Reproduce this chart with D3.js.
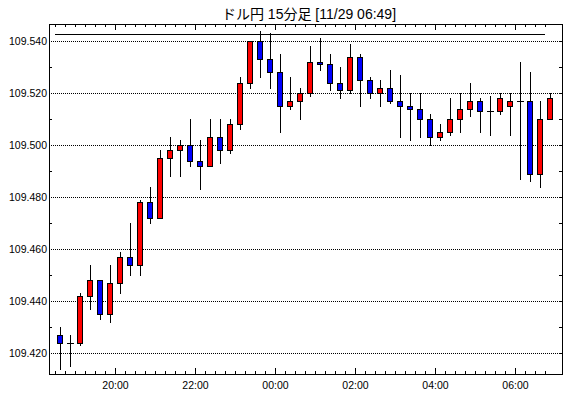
<!DOCTYPE html>
<html>
<head>
<meta charset="utf-8">
<script src="https://cdn.jsdelivr.net/npm/d3@7"></script>
<style>
body { margin: 0; background: #fff; }
text { font-family: "Liberation Sans", Arial, sans-serif; fill: #000; }
.tick line, .frame, .wick, .ref { shape-rendering: crispEdges; }
</style>
</head>
<body>
<script>
// 15 min bars, 11/28 18:30 -> 11/29 06:45
var times = ["18:30","18:45","19:00","19:15","19:30","19:45","20:00","20:15","20:30","20:45",
             "21:00","21:15","21:30","21:45","22:00","22:15","22:30","22:45","23:00","23:15",
             "23:30","23:45","00:00","00:15","00:30","00:45","01:00","01:15","01:30","01:45",
             "02:00","02:15","02:30","02:45","03:00","03:15","03:30","03:45","04:00","04:15",
             "04:30","04:45","05:00","05:15","05:30","05:45","06:00","06:15","06:30","06:45"];
var open  = [109.427,109.424,109.424,109.442,109.448,109.435,109.447,109.457,109.454,109.478,
             109.472,109.495,109.498,109.500,109.494,109.492,109.503,109.498,109.508,109.524,
             109.540,109.533,109.528,109.515,109.517,109.520,109.532,109.531,109.524,109.521,
             109.534,109.525,109.520,109.522,109.517,109.515,109.514,109.510,109.503,109.505,
             109.510,109.514,109.517,109.513,109.513,109.515,109.517,109.517,109.489,109.510];
var high  = [109.430,109.427,109.443,109.454,109.448,109.454,109.459,109.470,109.479,109.484,
             109.498,109.503,109.502,109.510,109.502,109.510,109.510,109.510,109.526,109.540,
             109.544,109.543,109.535,109.526,109.522,109.538,109.541,109.535,109.530,109.539,
             109.535,109.526,109.525,109.529,109.527,109.520,109.520,109.512,109.508,109.518,
             109.520,109.524,109.518,109.519,109.520,109.520,109.532,109.528,109.517,109.520];
var low   = [109.414,109.415,109.423,109.437,109.433,109.432,109.443,109.450,109.450,109.470,
             109.472,109.488,109.488,109.492,109.483,109.492,109.493,109.497,109.506,109.522,
             109.526,109.522,109.505,109.514,109.510,109.519,109.529,109.521,109.518,109.520,
             109.515,109.518,109.515,109.516,109.503,109.502,109.503,109.500,109.502,109.504,
             109.505,109.511,109.505,109.504,109.512,109.504,109.487,109.486,109.484,109.510];
var close = [109.424,109.424,109.442,109.448,109.435,109.447,109.457,109.454,109.478,109.472,
             109.495,109.498,109.500,109.494,109.492,109.503,109.498,109.508,109.524,109.540,
             109.533,109.528,109.515,109.517,109.520,109.532,109.531,109.524,109.521,109.534,
             109.525,109.520,109.522,109.517,109.515,109.514,109.510,109.503,109.505,109.510,
             109.514,109.517,109.513,109.513,109.518,109.517,109.517,109.489,109.510,109.518];
var yLabels = [109.420, 109.440, 109.460, 109.480, 109.500, 109.520, 109.540];
var yMinor  = [109.430, 109.450, 109.470, 109.490, 109.510, 109.530];
var xLabels = ["20:00", "22:00", "00:00", "02:00", "04:00", "06:00"];
var refLine = 109.5427;
var title = "ドル円 15分足 [11/29 06:49]";

var width = 570, height = 398;
var frame = {left: 49, right: 562, top: 24, bottom: 374};

function toDate(s) {
  var h = +s.slice(0, 2), m = +s.slice(3);
  return new Date(2019, 10, h >= 12 ? 28 : 29, h, m);
}

var data = times.map(function(t, i) {
  return {t: toDate(t), o: open[i], h: high[i], l: low[i], c: close[i]};
});

var x = d3.scaleTime()
    .domain([toDate(times[0]), toDate(times[times.length - 1])])
    .range([55, 545]);
var y = d3.scaleLinear()
    .domain([109.42, 109.54])
    .range([353, 41]);

var svg = d3.select("body").append("svg")
    .attr("width", width)
    .attr("height", height);

svg.append("text")
    .attr("x", 309)
    .attr("y", 19)
    .attr("text-anchor", "middle")
    .style("font-family", '"Liberation Sans", "Noto Sans CJK JP", sans-serif')
    .style("font-size", "14px")
    .text(title);

// dotted grid
svg.selectAll(".grid")
    .data(yLabels)
  .enter().append("line")
    .attr("class", "grid")
    .attr("x1", frame.left).attr("x2", frame.right)
    .attr("y1", function(d) { return Math.round(y(d)) + 0.5; })
    .attr("y2", function(d) { return Math.round(y(d)) + 0.5; })
    .attr("stroke", "#000")
    .attr("stroke-dasharray", "1,1");

svg.append("line")
    .attr("class", "ref")
    .attr("x1", x(toDate(times[0]))).attr("x2", x(toDate(times[times.length - 1])))
    .attr("y1", Math.round(y(refLine)) + 0.5)
    .attr("y2", Math.round(y(refLine)) + 0.5)
    .attr("stroke", "#000");

// axes
var quarter = d3.timeMinute.every(15);
var labelDates = xLabels.map(toDate);

function noDomain(g) { g.select(".domain").remove(); g.selectAll("text").style("font-size", "10.5px"); }

svg.append("g")
    .attr("transform", "translate(0," + frame.bottom + ")")
    .call(d3.axisBottom(x).ticks(quarter).tickSize(-3).tickFormat(""))
    .call(noDomain);
svg.append("g")
    .attr("transform", "translate(0," + frame.bottom + ")")
    .call(d3.axisBottom(x).tickValues(labelDates).tickSize(-6).tickPadding(8)
          .tickFormat(d3.timeFormat("%H:%M")))
    .call(noDomain);
svg.append("g")
    .attr("transform", "translate(0," + frame.top + ")")
    .call(d3.axisTop(x).ticks(quarter).tickSize(-3).tickFormat(""))
    .call(noDomain);
svg.append("g")
    .attr("transform", "translate(0," + frame.top + ")")
    .call(d3.axisTop(x).tickValues(labelDates).tickSize(-6).tickFormat(""))
    .call(noDomain);

svg.append("g")
    .attr("transform", "translate(" + frame.left + ",0)")
    .call(d3.axisLeft(y).tickValues(yMinor).tickSize(-3).tickFormat(""))
    .call(noDomain);
svg.append("g")
    .attr("transform", "translate(" + frame.left + ",0)")
    .call(d3.axisLeft(y).tickValues(yLabels).tickSize(0).tickPadding(2).tickFormat(d3.format(".3f")))
    .call(noDomain);
svg.append("g")
    .attr("transform", "translate(" + frame.right + ",0)")
    .call(d3.axisRight(y).tickValues(yLabels.concat(yMinor)).tickSize(-3).tickFormat(""))
    .call(noDomain);

svg.selectAll(".tick line").attr("transform", function() {
  return null;
});

// candles
function cx(d) { return Math.round(x(d.t)) + 5; }
function py(v) { return Math.round(y(v)); }

var candle = svg.selectAll(".candle")
    .data(data)
  .enter().append("g")
    .attr("class", "candle");

candle.append("line")
    .attr("class", "wick")
    .attr("x1", function(d) { return cx(d) + 0.5; })
    .attr("x2", function(d) { return cx(d) + 0.5; })
    .attr("y1", function(d) { return py(d.h); })
    .attr("y2", function(d) { return py(d.l) + 1; })
    .attr("stroke", "#000");

candle.filter(function(d) { return d.o !== d.c; }).append("rect")
    .attr("class", "frame")
    .attr("x", function(d) { return cx(d) - 3 + 0.5; })
    .attr("width", 5)
    .attr("y", function(d) { return py(Math.max(d.o, d.c)) + 0.5; })
    .attr("height", function(d) { return py(Math.min(d.o, d.c)) - py(Math.max(d.o, d.c)); })
    .attr("fill", function(d) { return d.c > d.o ? "#ff0000" : "#0000ff"; })
    .attr("stroke", "#000");

candle.filter(function(d) { return d.o === d.c; }).append("line")
    .attr("class", "wick")
    .attr("x1", function(d) { return cx(d) - 3; })
    .attr("x2", function(d) { return cx(d) + 4; })
    .attr("y1", function(d) { return py(d.c) + 0.5; })
    .attr("y2", function(d) { return py(d.c) + 0.5; })
    .attr("stroke", "#000");

// plot frame
svg.append("rect")
    .attr("class", "frame")
    .attr("x", frame.left + 0.5)
    .attr("y", frame.top + 0.5)
    .attr("width", frame.right - frame.left)
    .attr("height", frame.bottom - frame.top)
    .attr("fill", "none")
    .attr("stroke", "#000")
    .attr("stroke-width", 1.5);
</script>
</body>
</html>
